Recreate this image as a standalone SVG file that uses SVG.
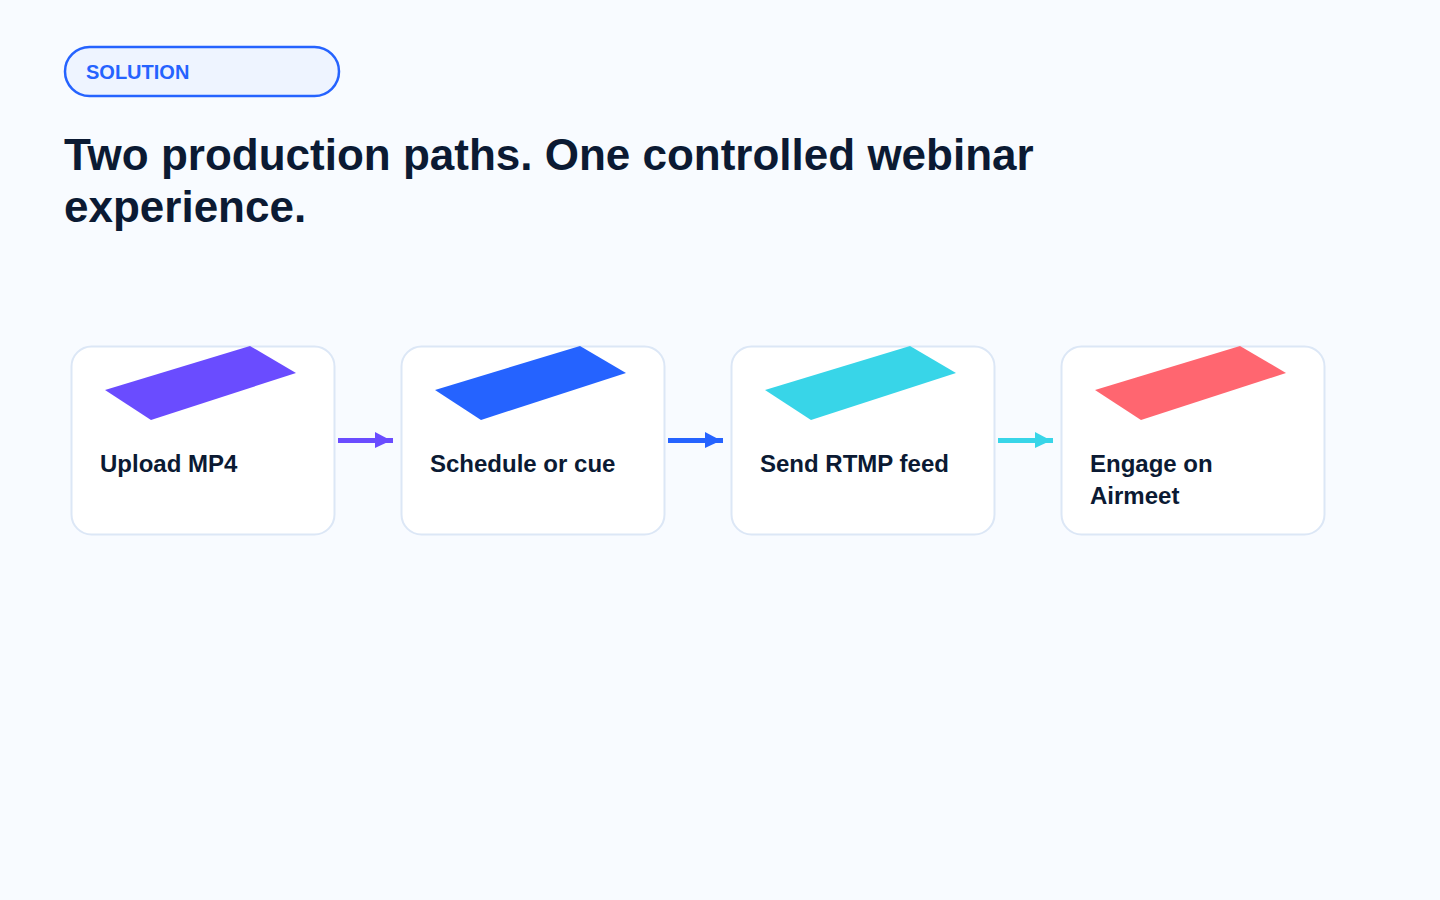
<svg xmlns="http://www.w3.org/2000/svg" width="1440" height="900" viewBox="0 0 1440 900">
  <style>
    .card { fill: #ffffff; stroke: #dce7f6; stroke-width: 2; }
    .label { font-family: "Liberation Sans", Arial, sans-serif; font-weight: bold; font-size: 24px; fill: #0b1a33; }
    .title { font-family: "Liberation Sans", Arial, sans-serif; font-weight: bold; font-size: 44px; fill: #0b1a33; }
    .conn { stroke-width: 5; fill: none; }
  </style>
  <rect x="0" y="0" width="1440" height="900" fill="#f8fbff"/>

  <g id="badge">
    <rect x="65" y="47" width="274" height="49" rx="24.5" fill="#eef4ff" stroke="#2563ff" stroke-width="2.5"/>
    <text x="86" y="79" font-family="'Liberation Sans', Arial, sans-serif" font-weight="bold" font-size="20" fill="#2563ff">SOLUTION</text>
  </g>

  <g id="title">
    <text class="title" x="64" y="170">Two production paths. One controlled webinar</text>
    <text class="title" x="64" y="222">experience.</text>
  </g>

  <g id="connectors">
    <g id="c1">
      <line class="conn" x1="338" y1="440.5" x2="393" y2="440.5" stroke="#6a4cff"/>
      <polygon points="375,432 375,448 391,440.5" fill="#6a4cff"/>
    </g>
    <g id="c2">
      <line class="conn" x1="668" y1="440.5" x2="723" y2="440.5" stroke="#2563ff"/>
      <polygon points="705,432 705,448 721,440.5" fill="#2563ff"/>
    </g>
    <g id="c3">
      <line class="conn" x1="998" y1="440.5" x2="1053" y2="440.5" stroke="#38d5e8"/>
      <polygon points="1035,432 1035,448 1051,440.5" fill="#38d5e8"/>
    </g>
  </g>

  <g id="node1">
    <rect class="card" x="71.5" y="346.5" width="263" height="188" rx="20"/>
    <polygon points="105,390 250,346 296,373 151,420" fill="#6a4cff"/>
    <text class="label" x="100" y="472">Upload MP4</text>
  </g>

  <g id="node2">
    <rect class="card" x="401.5" y="346.5" width="263" height="188" rx="20"/>
    <polygon points="435,390 580,346 626,373 481,420" fill="#2563ff"/>
    <text class="label" x="430" y="472">Schedule or cue</text>
  </g>

  <g id="node3">
    <rect class="card" x="731.5" y="346.5" width="263" height="188" rx="20"/>
    <polygon points="765,390 910,346 956,373 811,420" fill="#38d5e8"/>
    <text class="label" x="760" y="472">Send RTMP feed</text>
  </g>

  <g id="node4">
    <rect class="card" x="1061.5" y="346.5" width="263" height="188" rx="20"/>
    <polygon points="1095,390 1240,346 1286,373 1141,420" fill="#ff6670"/>
    <text class="label" x="1090" y="472">Engage on</text>
    <text class="label" x="1090" y="504">Airmeet</text>
  </g>
</svg>
